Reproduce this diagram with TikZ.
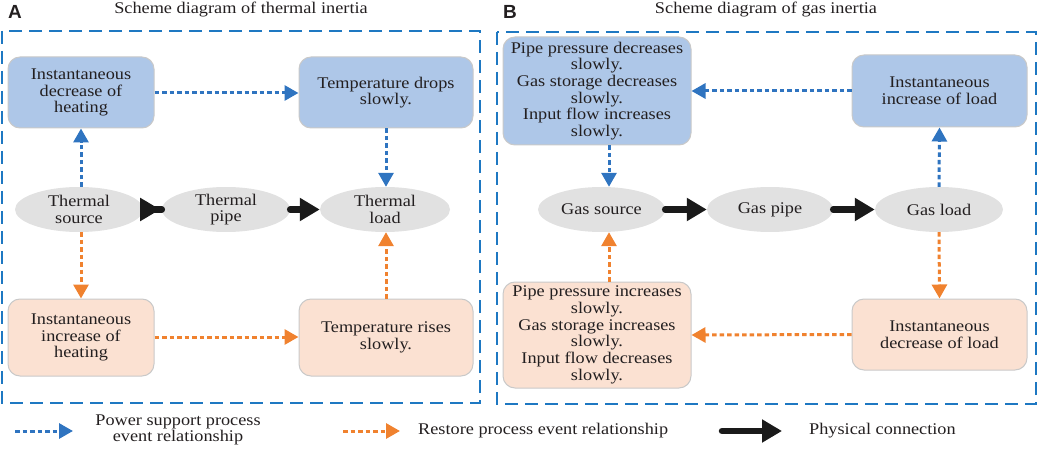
\documentclass[tikz,border=0pt]{standalone}
\usepackage{fontspec}
\setmainfont{Liberation Serif}[FakeStretch=1.12]
\newfontfamily\labfont{Liberation Sans}
\usetikzlibrary{arrows.meta,shapes.geometric}
\definecolor{framec}{HTML}{1E78C2}
\definecolor{bluearr}{HTML}{2F74C0}
\definecolor{orarr}{HTML}{F0822F}
\definecolor{bluefill}{HTML}{AEC7E8}
\definecolor{orfill}{HTML}{FBE1D2}
\definecolor{ellfill}{HTML}{E1E1E1}
\definecolor{boxline}{HTML}{C9C9C9}
\definecolor{txt}{HTML}{231F20}
\definecolor{physc}{HTML}{1A1A1A}
\tikzset{
  every node/.style={text=txt},
  txtf/.style={font=\fontsize{16.3}{16.7}\selectfont, align=center},
  boxbase/.style={txtf, rectangle, rounded corners=12pt, draw=boxline, line width=1pt, inner sep=0pt},
  bbox/.style={boxbase, fill=bluefill},
  obox/.style={boxbase, fill=orfill},
  ell/.style={txtf, ellipse, fill=ellfill, inner sep=0pt, minimum height=45pt},
  barr/.style={draw=bluearr, line width=3pt, dash pattern=on 4.5pt off 3pt, -{Triangle[length=14pt,width=15pt]}},
  oarr/.style={draw=orarr, line width=3pt, dash pattern=on 4.5pt off 3pt, -{Triangle[length=14pt,width=15pt]}},
  phys/.style={draw=physc, line width=6.5pt, line cap=round},
  physhead/.style={-{Triangle[length=20pt,width=22pt]}},
  frame/.style={draw=framec, line width=2.4pt, dash pattern=on 13pt off 7pt},
  ttl/.style={font=\fontsize{16.3}{16.7}\selectfont},
  plab/.style={font=\labfont\bfseries\fontsize{19}{19}\selectfont}
}
\begin{document}
\begin{tikzpicture}[x=1pt,y=-1pt]
\useasboundingbox (0,0) rectangle (1038,449);
% panel labels and titles
\node[plab] (labA) at (15,12) {A};
\node[ttl] (ttlA) at (241,10) {Scheme diagram of thermal inertia};
\node[plab] (labB) at (510,12) {B};
\node[ttl] (ttlB) at (766,10) {Scheme diagram of gas inertia};
% frames
\draw[frame] (2,31) rectangle (480,403);
\draw[frame] (497,32) rectangle (1036,404);
% ---- Panel A ----
\node[bbox, minimum width=146pt, minimum height=71pt] (a1) at (81,92.5) {Instantaneous\\decrease of\\heating};
\node[bbox, minimum width=174pt, minimum height=71pt] (a2) at (386,92.5) {Temperature drops\\slowly.};
\node[obox, minimum width=146pt, minimum height=77pt] (a3) at (81,337.5) {Instantaneous\\increase of\\heating};
\node[obox, minimum width=174pt, minimum height=77pt] (a4) at (386,337.5) {Temperature rises\\slowly.};
\node[ell, minimum width=128pt] (as) at (79,209.5) {Thermal\\source};
\node[ell, minimum width=128pt] (ap) at (226,209.5) {Thermal\\pipe};
\node[ell, minimum width=130pt] (al) at (385,209.5) {Thermal\\load};
\draw[barr] (as.north -| a1.south) -- (a1.south);
\draw[barr] (a1.east |- 0,93) -- (a2.west |- 0,93);
\draw[barr] (a2.south) -- (a2.south |- al.north);
\draw[oarr] (as.south -| a3.north) -- (a3.north);
\draw[oarr] (a3.east |- 0,337) -- (a4.west |- 0,337);
\draw[oarr] (a4.north) -- (a4.north |- al.south);
\draw[phys, {Triangle[reversed,length=20pt,width=22pt]}-] ([xshift=-3pt]as.east) -- (ap.west);
\draw[phys, physhead] (ap.east) -- (al.west);
% ---- Panel B ----
\node[bbox, minimum width=188pt, minimum height=108pt] (b1) at (597,91) {Pipe pressure decreases\\slowly.\\Gas storage decreases\\slowly.\\Input flow increases\\slowly.};
\node[bbox, minimum width=175pt, minimum height=72pt] (b2) at (939.5,91) {Instantaneous\\increase of load};
\node[obox, minimum width=188pt, minimum height=106pt] (b3) at (597,335) {Pipe pressure increases\\slowly.\\Gas storage increases\\slowly.\\Input flow decreases\\slowly.};
\node[obox, minimum width=175pt, minimum height=71pt] (b4) at (939.5,334.5) {Instantaneous\\decrease of load};
\node[ell, minimum width=127pt] (bs) at (601.5,209.5) {Gas source};
\node[ell, minimum width=126pt] (bp) at (770,209.5) {Gas pipe};
\node[ell, minimum width=128pt] (bl) at (939,209.5) {Gas load};
\draw[barr] (b2.west) -- (b1.east);
\draw[barr] ([xshift=12pt]b1.south) -- ([xshift=12pt]b1.south |- bs.north);
\draw[barr] (bl.north) -- (b2.south);
\draw[oarr] (b4.west) -- (b3.east);
\draw[oarr] (bl.south) -- (b4.north);
\draw[oarr] ([xshift=12pt]b3.north) -- ([xshift=12pt]b3.north |- bs.south);
\draw[phys, physhead] (bs.east) -- (bp.west);
\draw[phys, physhead] (bp.east) -- (bl.west);
% ---- Legend ----
\coordinate (l1s) at (15,431);
\coordinate (l1e) at (73,431);
\coordinate (l2s) at (343,431);
\coordinate (l2e) at (400,431);
\coordinate (l3s) at (722,431);
\coordinate (l3e) at (782,431);
\draw[barr] (l1s) -- (l1e);
\draw[oarr] (l2s) -- (l2e);
\draw[phys, physhead] (l3s) -- (l3e);
\node[txtf] (t1) at (178,430) {Power support process\\event relationship};
\node[txtf, anchor=west, inner sep=0pt] (t2) at (418,431) {Restore process event relationship};
\node[txtf, anchor=west, inner sep=0pt] (t3) at (809,431) {Physical connection};
\end{tikzpicture}
\end{document}
